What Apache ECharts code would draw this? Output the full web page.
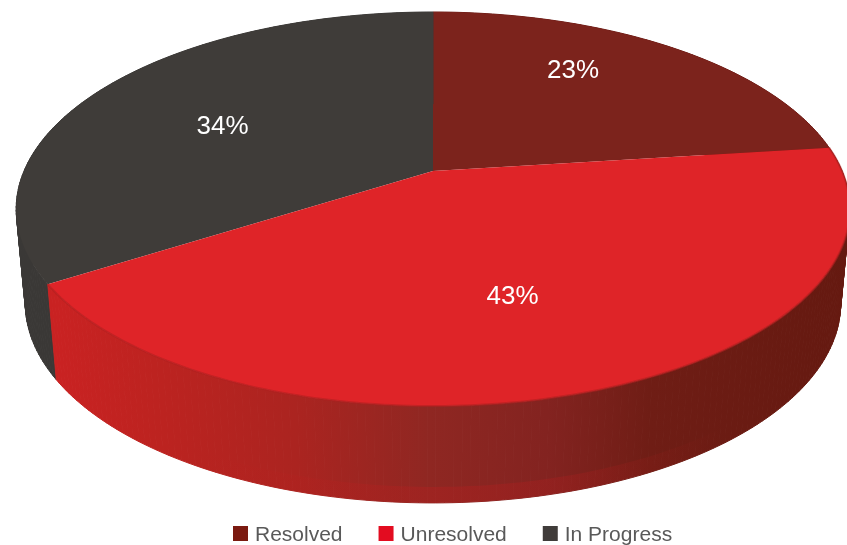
<!DOCTYPE html>
<html>
<head>
<meta charset="utf-8">
<style>html,body{margin:0;padding:0;background:#fff}#chart{width:847px;height:545px}</style>
<script src="https://cdn.jsdelivr.net/npm/echarts@6/dist/echarts.min.js"></script>
</head>
<body>
<div id="chart"></div>
<script>
// Ticket status shares, in percent
const categories = ['Resolved', 'Unresolved', 'In Progress'];
const shares = [23, 43, 34];

// Fill colours per status
const legendColors = ['#7b1a10', '#e30c20', '#403c3a'];
const faceColors = ['#7c231c', '#df2428', '#3f3c39'];

// Wall shading, left to right across the disc
const wallShades = {
  Resolved: [[0, '#6b1a14'], [1, '#6b1a14']],
  Unresolved: [[0, '#c92222'], [0.12, '#bd2320'], [0.3, '#ab2420'], [0.47, '#8f2722'],
               [0.62, '#832320'], [0.75, '#6f1d15'], [1, '#651910']],
  'In Progress': [[0, '#3a3836'], [1, '#3a3836']]
};

const labelSpots = { Resolved: [573, 71], Unresolved: [512.5, 297], 'In Progress': [222.5, 127] };

// Perspective projection of the disc: unit circle -> tilted ellipse on screen
const view = { cx: 433, topY: 171, botY: 265, rx: 409, ryTop: 189.7, rxBot: 400, ryBot: 192, tilt: 0.193 };

function rimPoint(fraction, bottom) {
  const a = fraction * Math.PI * 2;
  const u = Math.sin(a), v = -Math.cos(a);
  const w = 1 - view.tilt * v;
  return bottom
    ? [view.cx + view.rxBot * u / w, view.botY + view.ryBot * v / w]
    : [view.cx + view.rx * u / w, view.topY + view.ryTop * v / w];
}

function arc(from, to, bottom, lift) {
  const steps = Math.max(8, Math.round((to - from) * 360));
  const pts = [];
  for (let i = 0; i <= steps; i++) {
    const p = rimPoint(from + (to - from) * i / steps, bottom);
    pts.push([p[0], p[1] - (lift || 0)]);
  }
  return pts;
}

const total = shares.reduce((s, v) => s + v, 0);
const startOf = {};
shares.reduce((acc, v, i) => { startOf[categories[i]] = acc / total; return acc + v; }, 0);

// Painted back to front so the front wall and face lie over the others
const paintOrder = ['Resolved', 'In Progress', 'Unresolved'];

function renderSlice(params, api) {
  const name = paintOrder[params.seriesIndex];
  const idx = categories.indexOf(name);
  const value = api.value(0);
  const from = startOf[name], to = from + value / total;
  const topArc = arc(from, to, false);
  const botArc = arc(from, to, true);
  const gradient = new echarts.graphic.LinearGradient(60, 0, 847, 0,
    wallShades[name].map(s => ({ offset: s[0], color: s[1] })), true);
  const children = [];
  // The wall is built from narrow quads so its silhouette follows the tangent of both rims
  for (let i = 0; i < topArc.length - 1; i++) {
    children.push({ type: 'polygon',
      shape: { points: [topArc[i], topArc[i + 1], botArc[i + 1], botArc[i]] },
      style: { fill: gradient, stroke: gradient, lineWidth: 1 } });
  }
  if (name === 'Unresolved') {
    // Warmer reflected band along the lower edge of the wall, strongest mid-front
    const raised = arc(from, to, true, 16);
    const glow = new echarts.graphic.LinearGradient(200, 0, 720, 0, [
      { offset: 0, color: 'rgba(196,28,30,0)' },
      { offset: 0.45, color: 'rgba(196,28,30,0.28)' },
      { offset: 0.7, color: 'rgba(196,28,30,0.22)' },
      { offset: 1, color: 'rgba(196,28,30,0)' }
    ], true);
    children.push({ type: 'polygon', shape: { points: raised.concat(botArc.slice().reverse()) },
      style: { fill: glow } });
  }
  children.push({ type: 'polygon', shape: { points: [[view.cx, view.topY]].concat(topArc) },
    style: { fill: faceColors[idx] } });
  if (name === 'Unresolved') {
    children.push({ type: 'polyline', shape: { points: topArc },
      style: { fill: 'none', stroke: 'rgba(176,32,32,0.6)', lineWidth: 2 } });
  }
  children.push({ type: 'text', x: labelSpots[name][0], y: labelSpots[name][1],
    style: { text: value + '%', fill: '#ffffff', align: 'center', verticalAlign: 'middle',
             font: '26px "Liberation Sans", Arial, sans-serif' } });
  return { type: 'group', children };
}

const legendFont = { color: '#595959', fontSize: 21, fontFamily: '"Liberation Sans", Arial, sans-serif' };

const chart = echarts.init(document.getElementById('chart'), null, { renderer: 'canvas' });
chart.setOption({
  animation: false,
  backgroundColor: '#ffffff',
  legend: {
    data: categories,
    left: 233,
    top: 525,
    icon: 'rect',
    itemWidth: 15,
    itemHeight: 15,
    itemGap: 36,
    padding: 0,
    selectedMode: false,
    formatter: '{entry|{name}}',
    textStyle: Object.assign({}, legendFont, {
      rich: { entry: Object.assign({}, legendFont, { padding: [4, 0, 0, 2] }) }
    })
  },
  series: paintOrder.map(name => ({
    type: 'custom',
    name,
    coordinateSystem: 'none',
    itemStyle: { color: legendColors[categories.indexOf(name)] },
    renderItem: renderSlice,
    data: [[shares[categories.indexOf(name)]]]
  }))
});
</script>
</body>
</html>
